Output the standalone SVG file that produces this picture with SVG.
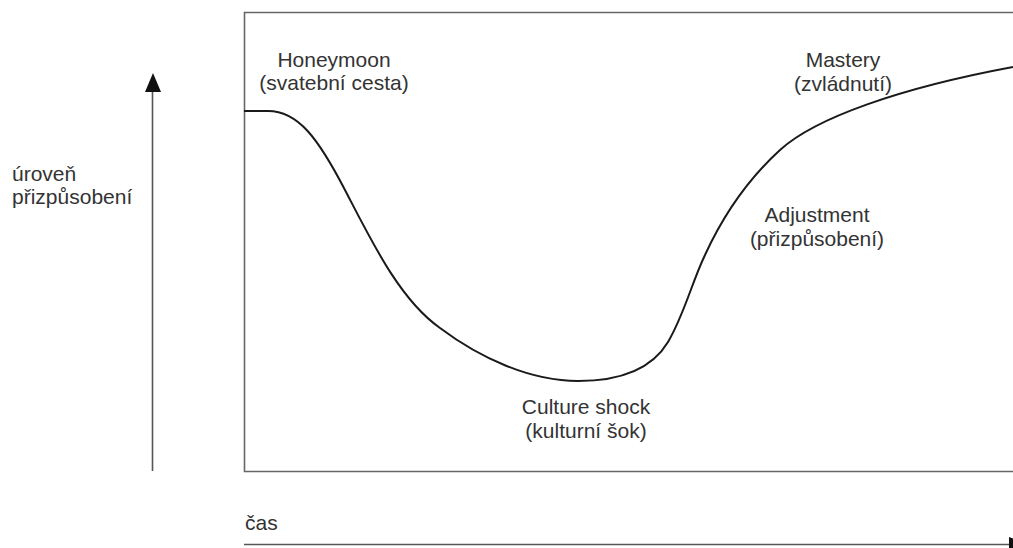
<svg xmlns="http://www.w3.org/2000/svg" width="1013" height="548" viewBox="0 0 1013 548">
<style>
.lbl{font-family:"Liberation Sans",Arial,sans-serif;font-size:21px;fill:#333;}
.mid{text-anchor:middle;}
.frame{fill:none;stroke:#666;stroke-width:1.6;}
.axis{fill:none;stroke:#555;stroke-width:1.6;}
.curve{fill:none;stroke:#1a1a1a;stroke-width:2;}
</style>
<rect width="1013" height="548" fill="#fff"/>
<g id="frame">
<path class="frame" d="M1013,12.5 L244.5,12.5 L244.5,471.5 L1013,471.5"/>
</g>
<g id="connectors">
<line class="axis" x1="152.5" y1="471" x2="152.5" y2="88"/>
<polygon points="153,73 145,92 161,92" fill="#111"/>
<line class="axis" x1="244" y1="544.5" x2="1012" y2="544.5"/>
<polygon points="1009,537 1009,552 1028,544.5" fill="#111"/>
<path id="curve" class="curve" d="M244,111 L268,111 C298,111 318,138 345,190 C372,242 400,300 440,328 C480,358 530,381 578,381 C615,381 650,372 668,342 C684,315 692,282 705,255 C722,218 745,182 780,150 C815,118 900,88 1013,67"/>
</g>
<g id="ylabel">
<text class="lbl" x="12" y="181">úroveň</text>
<text class="lbl" x="12" y="204">přizpůsobení</text>
</g>
<g id="xlabel">
<text class="lbl" x="245" y="530">čas</text>
</g>
<g id="honeymoon">
<text class="lbl mid" x="334" y="67">Honeymoon</text>
<text class="lbl mid" x="334" y="90">(svatební cesta)</text>
</g>
<g id="culture-shock">
<text class="lbl mid" x="586" y="414">Culture shock</text>
<text class="lbl mid" x="586" y="438">(kulturní šok)</text>
</g>
<g id="adjustment">
<text class="lbl mid" x="817" y="222">Adjustment</text>
<text class="lbl mid" x="817" y="246">(přizpůsobení)</text>
</g>
<g id="mastery">
<text class="lbl mid" x="843" y="67">Mastery</text>
<text class="lbl mid" x="843" y="91">(zvládnutí)</text>
</g>
</svg>
